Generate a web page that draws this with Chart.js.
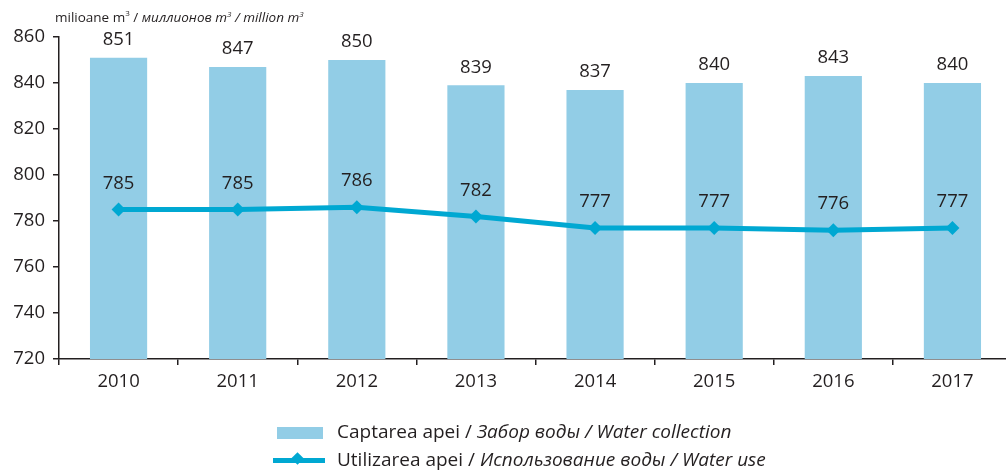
<!DOCTYPE html>
<html>
<head>
<meta charset="utf-8">
<script src="https://cdn.jsdelivr.net/npm/chart.js@4.4.1/dist/chart.umd.min.js"></script>
<style>
    html, body { margin: 0; padding: 0; background: #fff; overflow: hidden; }
    #wrap { position: relative; width: 1006px; height: 472px; overflow: hidden; font-family: "Open Sans", sans-serif; color: #231f20; }
    #waterChart { position: absolute; left: 0; top: 0; }
    .unit { position: absolute; left: 55px; top: 7px; font-size: 13.5px; white-space: nowrap; }
    .unit sup { font-size: 8px; }
    .legend { position: absolute; left: 273px; font-size: 19px; white-space: nowrap; }
    .legend .sw { display: inline-block; vertical-align: middle; margin-right: 12px; position: relative; }
    .sw.bar { width: 46px; height: 12px; background: #92cde6; margin-left: 4px; margin-right: 14px; }
    .sw.line { width: 52px; height: 5px; background: #00a8d2; }
    .sw.line::after { content: ""; position: absolute; left: 20px; top: -4px; width: 9px; height: 9px; background: #00a8d2; transform: rotate(45deg); }
</style>
</head>
<body>
<div id="wrap">
    <canvas id="waterChart" width="1020" height="472" style="width:1020px;height:472px"></canvas>
    <div class="unit">milioane m<sup>3</sup> / <i>миллионов m<sup>3</sup> / million m<sup>3</sup></i></div>
    <div class="legend" style="top:418px"><span class="sw bar"></span>Captarea apei / <i>Забор воды / Water collection</i></div>
    <div class="legend" style="top:446px"><span class="sw line"></span>Utilizarea apei / <i>Использование воды / Water use</i></div>
</div>

<script>
/* ==========================================================
   DATA
========================================================== */

const years = ["2010", "2011", "2012", "2013", "2014", "2015", "2016", "2017"];

const collection = [851, 847, 850, 839, 837, 840, 843, 840];

const usage = [785, 785, 786, 782, 777, 777, 776, 777];

const yTicks = [720, 740, 760, 780, 800, 820, 840, 860];

const ink = "#231f20";
const font = { family: "'Open Sans', sans-serif", size: 18.5 };

/* ==========================================================
   VALUE LABELS
========================================================== */

const valueLabels = {

    id: "valueLabels",

    afterDatasetsDraw(chart) {

        const ctx = chart.ctx;

        ctx.save();
        ctx.font = "18.5px 'Open Sans', sans-serif";
        ctx.fillStyle = ink;
        ctx.textAlign = "center";
        ctx.textBaseline = "middle";

        chart.data.datasets.forEach((ds, i) => {

            const meta = chart.getDatasetMeta(i);
            const lift = ds.type === "line" ? 26 : 18;

            meta.data.forEach((el, j) => {
                ctx.fillText(String(ds.data[j]), el.x, el.y - lift);
            });

        });

        ctx.restore();

    }

};

/* ==========================================================
   CHART
========================================================== */

new Chart(document.getElementById("waterChart").getContext("2d"), {

    data: {

        labels: years,

        datasets: [

            {
                type: "line",
                label: "Utilizarea apei",
                data: usage,
                borderColor: "#00a8d2",
                backgroundColor: "#00a8d2",
                borderWidth: 5,
                pointStyle: "rectRot",
                pointRadius: 7,
                pointBackgroundColor: "#00a8d2",
                pointBorderWidth: 0,
                tension: 0,
                order: 0
            },

            {
                type: "bar",
                label: "Captarea apei",
                data: collection,
                backgroundColor: "#92cde6",
                categoryPercentage: 1,
                barPercentage: 0.48,
                order: 1
            }

        ]

    },

    options: {

        responsive: false,
        animation: false,

        layout: {
            padding: { top: 37, right: 8, bottom: 73, left: 0 }
        },

        plugins: {
            legend: { display: false },
            tooltip: { enabled: false }
        },

        scales: {

            x: {
                afterFit: (scale) => { scale.height = 40; },
                grid: {
                    display: true,
                    drawOnChartArea: false,
                    offset: true,
                    tickLength: 6,
                    color: ink,
                    lineWidth: 1.5
                },
                border: { display: true, color: ink, width: 1.5 },
                ticks: { color: ink, font, padding: 6 }
            },

            y: {
                min: 720,
                max: 860,
                afterFit: (scale) => { scale.width = 59; },
                afterBuildTicks: (scale) => {
                    scale.ticks = yTicks.map(v => ({ value: v }));
                },
                grid: {
                    display: true,
                    drawOnChartArea: false,
                    tickLength: 6,
                    color: ink,
                    lineWidth: 1.5
                },
                border: { display: true, color: ink, width: 1.5 },
                ticks: { color: ink, font, padding: 8 }
            }

        }

    },

    plugins: [valueLabels]

});
</script>
</body>
</html>
